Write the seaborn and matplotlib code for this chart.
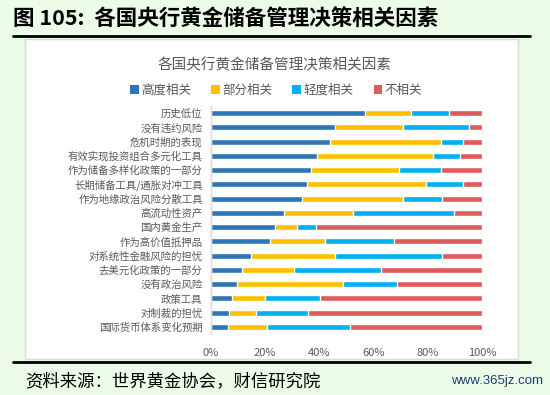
import numpy as np
import pandas as pd
import seaborn as sns
from matplotlib import pyplot as plt
from matplotlib.patches import Patch, Rectangle
from matplotlib.lines import Line2D

categories = [
    "历史低位", "没有违约风险", "危机时期的表现", "有效实现投资组合多元化工具",
    "作为储备多样化政策的一部分", "长期储备工具/通胀对冲工具", "作为地缘政治风险分散工具",
    "高流动性资产", "国内黄金生产", "作为高价值抵押品", "对系统性金融风险的担忧",
    "去美元化政策的一部分", "没有政治风险", "政策工具", "对制裁的担忧", "国际货币体系变化预期",
]
high = [57.0, 45.7, 43.8, 39.2, 37.0, 35.3, 33.7, 27.0, 23.7, 21.9, 14.7, 11.6, 9.5, 7.6, 6.7, 6.4]
partial = [16.7, 25.2, 41.2, 42.6, 32.5, 43.9, 37.2, 25.3, 7.9, 20.1, 31.0, 19.1, 39.3, 12.3, 9.9, 14.1]
slight = [14.2, 24.2, 8.1, 10.1, 15.3, 13.9, 14.2, 37.5, 7.1, 25.6, 39.4, 31.9, 20.0, 20.2, 19.2, 30.7]
unrelated = [12.1, 4.9, 6.9, 8.1, 15.2, 6.9, 14.9, 10.2, 61.3, 32.4, 14.9, 37.4, 31.2, 59.9, 64.2, 48.8]
series_names = ["高度相关", "部分相关", "轻度相关", "不相关"]
tick_labels = ["0%", "20%", "40%", "60%", "80%", "100%"]

colors = ["#2E75B6", "#FFC000", "#00B0F0", "#DC5B5B"]
bg = "#ECFCE8"
grey = "#595959"

df = pd.DataFrame({"category": categories, "high": high, "partial": partial,
                   "slight": slight, "unrelated": unrelated})
parts = ["high", "partial", "slight", "unrelated"]
cum = df[parts].cumsum(axis=1)

sns.set_theme(style="white")
plt.rcParams["font.family"] = ["Noto Sans CJK SC", "DejaVu Sans"]

fig = plt.figure(figsize=(5.5, 3.95), dpi=100)
fig.patch.set_facecolor(bg)

# white chart panel
fig.add_artist(Rectangle((0.0455, 0.0911), 0.896, 0.81, transform=fig.transFigure,
                         facecolor="white", edgecolor="#D9D9D9", linewidth=1.0, zorder=0))
fig.add_artist(Line2D([0.0236, 0.9636], [0.9089, 0.9089], transform=fig.transFigure,
                      color="black", linewidth=2.0))
fig.add_artist(Line2D([0.0236, 0.9636], [0.0835, 0.0835], transform=fig.transFigure,
                      color="black", linewidth=2.0))

fig.text(0.0236, 0.952, "图 105:  各国央行黄金储备管理决策相关因素", fontsize=15.5,
         fontweight="bold", ha="left", va="center", color="black")
fig.text(0.5, 0.835, "各国央行黄金储备管理决策相关因素", fontsize=10.5,
         ha="center", va="center", color=grey)
fig.text(0.0455, 0.035, "资料来源：世界黄金协会，财信研究院", fontsize=12.5,
         style="italic", ha="left", va="center", color="black")
fig.text(0.987, 0.035, "www.365jz.com", fontsize=9.5, ha="right", va="center",
         color="#1F3D7A", family=["Liberation Sans"])

ax = fig.add_axes([0.3836, 0.1542, 0.4927, 0.5777])
ax.set_facecolor("none")

# stacked bars drawn as overlapping cumulative bars, widest first
for i in range(len(parts) - 1, -1, -1):
    tmp = pd.DataFrame({"category": categories, "value": cum[parts[i]].to_numpy()})
    sns.barplot(data=tmp, x="value", y="category", orient="h", color=colors[i],
                width=0.42, saturation=1, ax=ax, zorder=2)

ax.set_xlim(0, 100)
ax.set_ylim(len(categories) - 0.5, -0.5)
ax.set_xticks(np.linspace(0, 100, len(tick_labels)))
ax.set_xticklabels(tick_labels)
ax.set_xlabel("")
ax.set_ylabel("")
ax.tick_params(axis="x", length=0, pad=10, labelsize=8, labelcolor=grey)
ax.tick_params(axis="y", length=0, pad=6, labelsize=7.5, labelcolor=grey)
for side in ["top", "right", "bottom"]:
    ax.spines[side].set_visible(False)
ax.spines["left"].set_color("#D9D9D9")
ax.spines["left"].set_linewidth(1.0)

handles = [Patch(facecolor=c, edgecolor="none") for c in colors]
fig.legend(handles, series_names, loc="center", bbox_to_anchor=(0.502, 0.772), ncol=4,
           frameon=False, fontsize=9, labelcolor=grey, handlelength=0.7, handleheight=0.7,
           handletextpad=0.2, columnspacing=1.6)

fig.savefig("out.png", dpi=100, facecolor=bg)
